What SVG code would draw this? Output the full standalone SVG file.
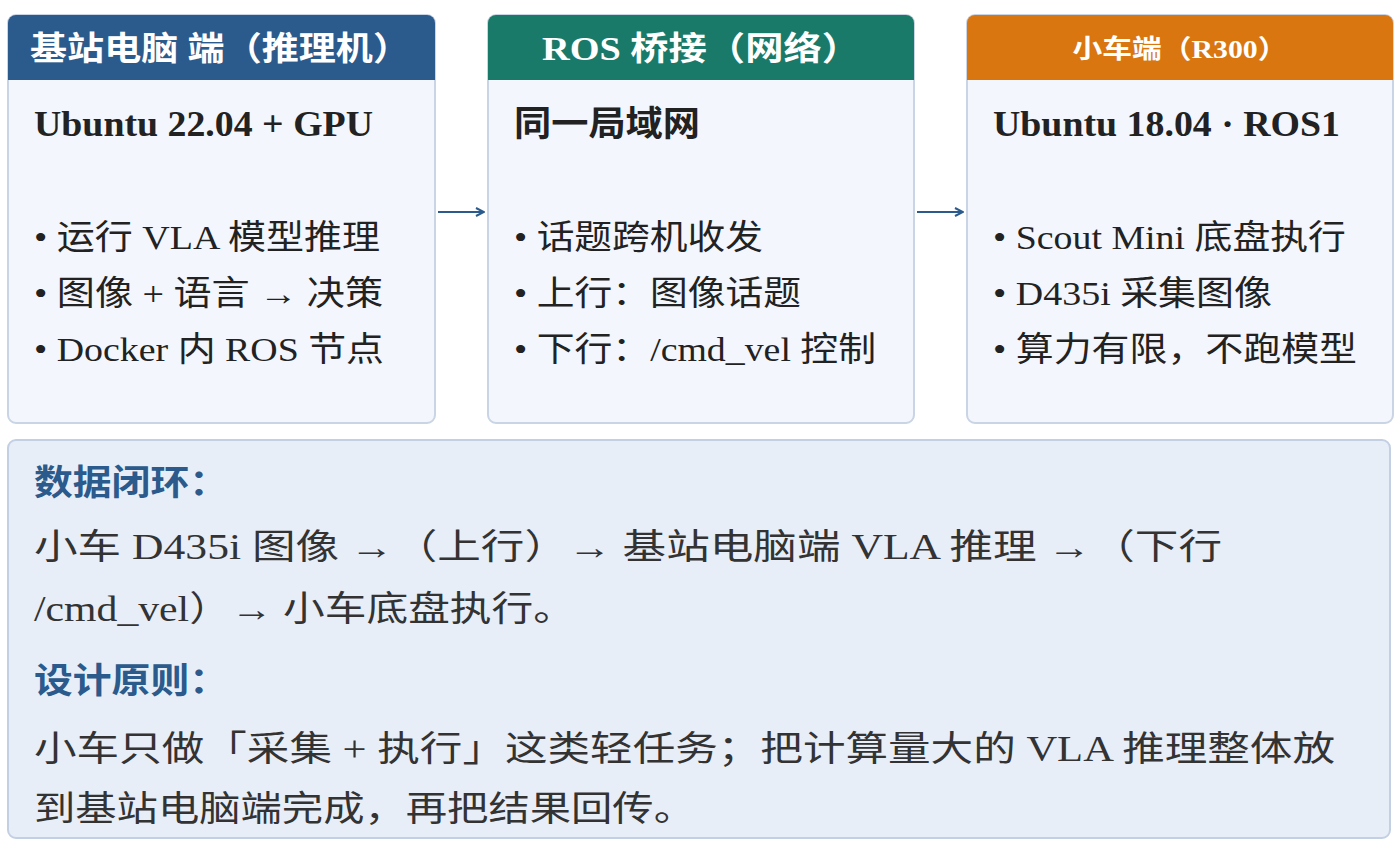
<svg xmlns="http://www.w3.org/2000/svg" width="1400" height="849" viewBox="0 0 1400 849">
<style>
text{font-family:"Liberation Serif","Noto Sans CJK SC",serif;fill:#222}
.hd{fill:#fff;font-weight:bold;font-size:33px;text-anchor:middle}
.sub{font-weight:bold;font-size:35px}
.b{font-size:34px}
.card{fill:#f3f6fc;stroke:#c9d4e4;stroke-width:2}
.lbl{font-weight:bold;font-size:35px;fill:#2b5a8c}
.t{font-size:35px;fill:#333}
</style>
<defs>
<marker id="ah" markerWidth="10" markerHeight="10" refX="9" refY="5" orient="auto" markerUnits="userSpaceOnUse"><path d="M1,1 L9,5 L1,9" fill="none" stroke="#2b5a8c" stroke-width="2"/></marker>
</defs>
<g id="node1">
<rect class="card" x="8" y="15" width="427" height="408" rx="8"/>
<path d="M16,15 H427 a8,8 0 0 1 8,8 V80 H8 V23 a8,8 0 0 1 8,-8z" fill="#2b5a8c"/>
<text class="hd" x="220" y="60" textLength="380" lengthAdjust="spacingAndGlyphs">基站电脑 端（推理机）</text>
<text class="sub" x="34" y="136" textLength="339" lengthAdjust="spacingAndGlyphs">Ubuntu 22.04 + GPU</text>
<text class="b" x="34" y="249" textLength="346" lengthAdjust="spacingAndGlyphs">• 运行 VLA 模型推理</text>
<text class="b" x="34" y="305" textLength="349" lengthAdjust="spacingAndGlyphs">• 图像 + 语言 → 决策</text>
<text class="b" x="34" y="361" textLength="350" lengthAdjust="spacingAndGlyphs">• Docker 内 ROS 节点</text>
</g>
<g id="node2">
<rect class="card" x="488" y="15" width="426" height="408" rx="8"/>
<path d="M496,15 H906 a8,8 0 0 1 8,8 V80 H488 V23 a8,8 0 0 1 8,-8z" fill="#1a7a6a"/>
<text class="hd" x="701" y="60" textLength="318" lengthAdjust="spacingAndGlyphs">ROS 桥接（网络）</text>
<text class="sub" x="514" y="136" textLength="186" lengthAdjust="spacingAndGlyphs">同一局域网</text>
<text class="b" x="514" y="249" textLength="249" lengthAdjust="spacingAndGlyphs">• 话题跨机收发</text>
<text class="b" x="514" y="305" textLength="287" lengthAdjust="spacingAndGlyphs">• 上行：图像话题</text>
<text class="b" x="514" y="361" textLength="362" lengthAdjust="spacingAndGlyphs">• 下行：/cmd_vel 控制</text>
</g>
<g id="node3">
<rect class="card" x="967" y="15" width="426" height="408" rx="8"/>
<path d="M975,15 H1385 a8,8 0 0 1 8,8 V80 H967 V23 a8,8 0 0 1 8,-8z" fill="#d9760f"/>
<text class="hd" x="1180" y="58" style="font-size:26px" textLength="215" lengthAdjust="spacingAndGlyphs">小车端（R300）</text>
<text class="sub" x="993" y="136" textLength="347" lengthAdjust="spacingAndGlyphs">Ubuntu 18.04 · ROS1</text>
<text class="b" x="993" y="249" textLength="353" lengthAdjust="spacingAndGlyphs">• Scout Mini 底盘执行</text>
<text class="b" x="993" y="305" textLength="279" lengthAdjust="spacingAndGlyphs">• D435i 采集图像</text>
<text class="b" x="993" y="361" textLength="364" lengthAdjust="spacingAndGlyphs">• 算力有限，不跑模型</text>
</g>
<g id="connectors" stroke="#2b5a8c" stroke-width="2">
<line x1="438" y1="212" x2="484" y2="212" marker-end="url(#ah)"/>
<line x1="917" y1="212" x2="963" y2="212" marker-end="url(#ah)"/>
</g>
<g id="summary">
<rect x="8" y="440" width="1382" height="398" rx="8" fill="#e8eef8" stroke="#c3d0e3" stroke-width="2"/>
<text class="lbl" x="34" y="495" textLength="194" lengthAdjust="spacingAndGlyphs">数据闭环：</text>
<text class="t" x="34" y="559" textLength="1188" lengthAdjust="spacingAndGlyphs">小车 D435i 图像 →（上行）→ 基站电脑端 VLA 推理 →（下行</text>
<text class="t" x="34" y="621" textLength="541" lengthAdjust="spacingAndGlyphs">/cmd_vel）→ 小车底盘执行。</text>
<text class="lbl" x="34" y="693" textLength="194" lengthAdjust="spacingAndGlyphs">设计原则：</text>
<text class="t" x="34" y="761" textLength="1301" lengthAdjust="spacingAndGlyphs">小车只做「采集 + 执行」这类轻任务；把计算量大的 VLA 推理整体放</text>
<text class="t" x="34" y="821" textLength="661" lengthAdjust="spacingAndGlyphs">到基站电脑端完成，再把结果回传。</text>
</g>
</svg>
